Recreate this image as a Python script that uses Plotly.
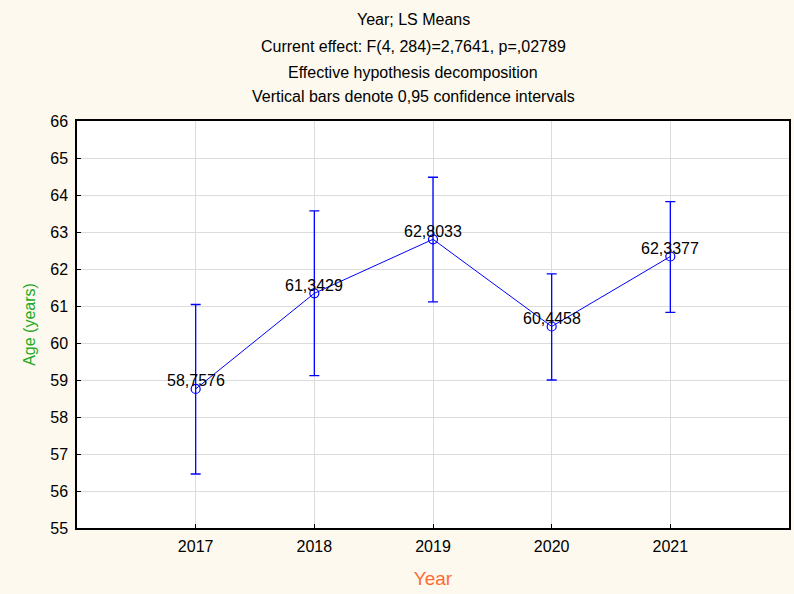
import plotly.graph_objects as go

years = ["2017", "2018", "2019", "2020", "2021"]
means = [58.7576, 61.3429, 62.8033, 60.4458, 62.3377]
upper = [61.04, 63.57, 64.48, 61.87, 63.82]
lower = [56.46, 59.12, 61.11, 59.00, 60.83]
labels = ["58,7576", "61,3429", "62,8033", "60,4458", "62,3377"]
title_lines = [
    "Year; LS Means",
    "Current effect: F(4, 284)=2,7641, p=,02789",
    "Effective hypothesis decomposition",
    "Vertical bars denote 0,95 confidence intervals",
]

FONT = "Liberation Sans, Arial, sans-serif"
blue = "#0000FF"
xpos = list(range(len(years)))

fig = go.Figure()
fig.add_trace(go.Scatter(
    x=xpos, y=means, mode="lines+markers",
    line=dict(color=blue, width=1),
    marker=dict(symbol="circle-open", size=9, color=blue, line=dict(width=1.2, color=blue)),
    error_y=dict(type="data", symmetric=False,
                 array=[u - m for u, m in zip(upper, means)],
                 arrayminus=[m - l for m, l in zip(means, lower)],
                 color=blue, thickness=1.3, width=5),
    showlegend=False, hoverinfo="skip",
))

for xv, m, t in zip(xpos, means, labels):
    fig.add_annotation(x=xv, y=m, xref="x", yref="y", text=t, showarrow=False, yshift=8,
                       font=dict(family=FONT, size=16, color="black"))

title_y = [19, 46, 72, 96]
for ty, t in zip(title_y, title_lines):
    fig.add_annotation(xref="paper", yref="paper", x=(414 - 77) / 714.0,
                       y=1 + (121 - ty) / 407.0, text=t, showarrow=False,
                       xanchor="center", yanchor="middle",
                       font=dict(family=FONT, size=16, color="black"))

fig.update_layout(
    width=794, height=594,
    margin=dict(l=77, r=3, t=121, b=66),
    paper_bgcolor="#FDF9EE", plot_bgcolor="white",
    font=dict(family=FONT, size=16, color="black"),
    xaxis=dict(range=[-1, 5], tickvals=xpos, ticktext=years, showgrid=True, gridcolor="#DCDCDC",
               ticks="inside", ticklen=4, tickcolor="black", ticklabelstandoff=3,
               showline=True, linecolor="black", linewidth=1.5, mirror=True,
               tickfont=dict(family=FONT, size=16, color="black"),
               title=dict(text="Year", font=dict(family=FONT, size=19, color="#FF6A33"), standoff=18),
               zeroline=False),
    yaxis=dict(range=[55, 66], dtick=1, showgrid=True, gridcolor="#DCDCDC",
               ticks="inside", ticklen=4, tickcolor="black", ticklabelstandoff=4,
               showline=True, linecolor="black", linewidth=1.5, mirror=True,
               tickfont=dict(family=FONT, size=16, color="black"),
               title=dict(text="Age (years)", font=dict(family=FONT, size=16, color="#22AA22"), standoff=11),
               zeroline=False),
)

fig.write_html("out.html", config={"displayModeBar": False},
               post_script="document.body.style.margin='0';")
